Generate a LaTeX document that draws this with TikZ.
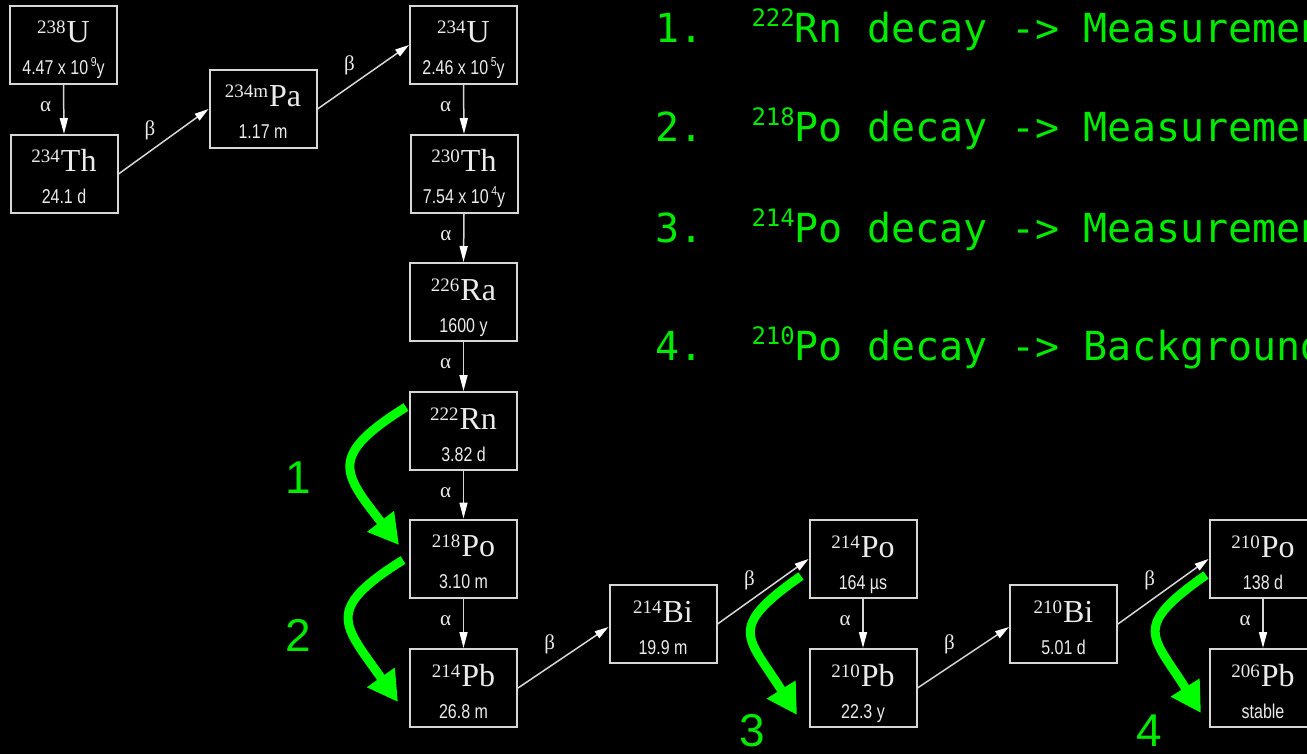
\documentclass[tikz,border=0pt]{standalone}
\usepackage{graphicx}
\usepackage{fontspec}
\setmainfont{Liberation Serif}
\newfontfamily\hlfont{Liberation Sans}
\newfontfamily\monofnt{DejaVu Sans Mono}
\newfontfamily\numfnt{Liberation Sans}
\usetikzlibrary{arrows.meta,calc}
\definecolor{boxline}{RGB}{215,215,215}
\definecolor{txt}{RGB}{235,235,235}
\definecolor{grn}{RGB}{0,255,0}
\definecolor{grntxt}{RGB}{0,235,0}

\newcommand{\elem}[2]{\raisebox{9pt}{\fontsize{19}{19}\selectfont #1}\kern1pt{\fontsize{32}{32}\selectfont #2}}
\newcommand{\hl}[1]{\scalebox{0.8}[1]{\hlfont\fontsize{20}{20}\selectfont #1}}
\newcommand{\pw}[1]{\,\raisebox{8pt}{\fontsize{13}{13}\selectfont #1}}
\newcommand{\nuc}[6]{%
  \node[isobox] (#1) at (#2,#3) {};
  \node[lbl] (#1e) at ([yshift=2pt]#1.center) {\elem{#4}{#5}};
  \node[lbl] (#1h) at ([yshift=-30pt]#1.center) {\hl{#6}};
}
\newcommand{\msup}[1]{\raisebox{16pt}{\fontsize{24}{24}\selectfont #1}}

\tikzset{
  isobox/.style={draw=boxline, line width=2pt, minimum width=107pt, minimum height=78pt, inner sep=0pt, fill=black},
  lbl/.style={text=txt, inner sep=0pt, anchor=base},
  adecay/.style={draw=boxline, line width=1.5pt, -{Triangle[length=16pt,width=8pt,fill=white,color=white]}},
  bdecay/.style={draw=boxline, line width=1.5pt, -{Triangle[length=14pt,width=8pt,fill=white,color=white]}},
  glbl/.style={text=txt, inner sep=0pt, font=\fontsize{21}{21}\selectfont},
  garrow/.style={draw=grn, line width=9pt, -{Triangle[length=30pt,width=32pt]}, looseness=1.7},
  gnum/.style={text=grntxt, inner sep=0pt, font=\numfnt\fontsize{46}{46}\selectfont},
  mtext/.style={text=grntxt, inner sep=0pt, anchor=base west, font=\monofnt\fontsize{40}{40}\selectfont},
}

\begin{document}
\begin{tikzpicture}[x=1pt,y=-1pt]
\fill[black] (0,0) rectangle (1307,754);
\useasboundingbox (0,0) rectangle (1307,754);
\clip (0,0) rectangle (1307,754);

\nuc{U238}{63.5}{45}{238}{U}{4.47 x 10\pw{9}y}
\nuc{Th234}{64}{174}{234}{Th}{24.1 d}
\nuc{Pa234}{263}{109}{234m}{Pa}{1.17 m}
\nuc{U234}{463.5}{45}{234}{U}{2.46 x 10\pw{5}y}
\nuc{Th230}{464}{174}{230}{Th}{7.54 x 10\pw{4}y}
\nuc{Ra226}{463.5}{302}{226}{Ra}{1600 y}
\nuc{Rn222}{463.5}{431}{222}{Rn}{3.82 d}
\nuc{Po218}{463.5}{558.5}{218}{Po}{3.10 m}
\nuc{Pb214}{463.5}{688}{214}{Pb}{26.8 m}
\nuc{Bi214}{663}{624}{214}{Bi}{19.9 m}
\nuc{Po214}{863}{559}{214}{Po}{164 µs}
\nuc{Pb210}{863}{688}{210}{Pb}{22.3 y}
\nuc{Bi210}{1063.5}{624}{210}{Bi}{5.01 d}
\nuc{Po210}{1263}{559}{210}{Po}{138 d}
\nuc{Pb206}{1263}{688}{206}{Pb}{stable}

% alpha decays
\draw[adecay] (U238.south) -- node[glbl, pos=0.45, xshift=-18pt] (a1) {α} (Th234.north);
\draw[adecay] (U234.south) -- node[glbl, pos=0.45, xshift=-18pt] (a2) {α} (Th230.north);
\draw[adecay] (Th230.south) -- node[glbl, pos=0.45, xshift=-18pt] (a3) {α} (Ra226.north);
\draw[adecay] (Ra226.south) -- node[glbl, pos=0.45, xshift=-18pt] (a4) {α} (Rn222.north);
\draw[adecay] (Rn222.south) -- node[glbl, pos=0.45, xshift=-18pt] (a5) {α} (Po218.north);
\draw[adecay] (Po218.south) -- node[glbl, pos=0.45, xshift=-18pt] (a6) {α} (Pb214.north);
\draw[adecay] (Po214.south) -- node[glbl, pos=0.45, xshift=-18pt] (a7) {α} (Pb210.north);
\draw[adecay] (Po210.south) -- node[glbl, pos=0.45, xshift=-18pt] (a8) {α} (Pb206.north);

% beta decays
\draw[bdecay] (Th234.east) -- node[glbl, pos=0.35, yshift=21pt] (b1) {β} (Pa234.west);
\draw[bdecay] (Pa234.east) -- node[glbl, pos=0.35, yshift=21pt] (b2) {β} (U234.west);
\draw[bdecay] (Pb214.east) -- node[glbl, pos=0.35, yshift=22pt] (b3) {β} ([yshift=-3pt]Bi214.west);
\draw[bdecay] (Bi214.east) -- node[glbl, pos=0.35, yshift=21pt] (b4) {β} (Po214.west);
\draw[bdecay] (Pb210.east) -- node[glbl, pos=0.35, yshift=22pt] (b5) {β} ([yshift=-3pt]Bi210.west);
\draw[bdecay] (Bi210.east) -- node[glbl, pos=0.35, yshift=21pt] (b6) {β} (Po210.west);

% green arrows
\coordinate (g1s) at (406,407);  \coordinate (g1e) at (399,545);
\coordinate (g2s) at (403,560);  \coordinate (g2e) at (398,702);
\coordinate (g3s) at (801,576);  \coordinate (g3e) at (797,715);
\coordinate (g4s) at (1206,575); \coordinate (g4e) at (1201,713);
\draw[garrow] (g1s) to[out=212,in=128] (g1e);
\draw[garrow] (g2s) to[out=212,in=125] (g2e);
\draw[garrow] (g3s) to[out=215,in=122] (g3e);
\draw[garrow] (g4s) to[out=215,in=122] (g4e);

\node[gnum] (n1) at (298,478) {1};
\node[gnum] (n2) at (298,635) {2};
\node[gnum] (n3) at (752,731) {3};
\node[gnum] (n4) at (1149,731) {4};

% right-hand text
\node[mtext] (t1) at (655,43) {1.\ \ \msup{222}Rn decay -> Measurement};
\node[mtext] (t2) at (655,142) {2.\ \ \msup{218}Po decay -> Measurement};
\node[mtext] (t3) at (655,243) {3.\ \ \msup{214}Po decay -> Measurement};
\node[mtext] (t4) at (655,360) {4.\ \ \msup{210}Po decay -> Background};
\end{tikzpicture}
\end{document}
